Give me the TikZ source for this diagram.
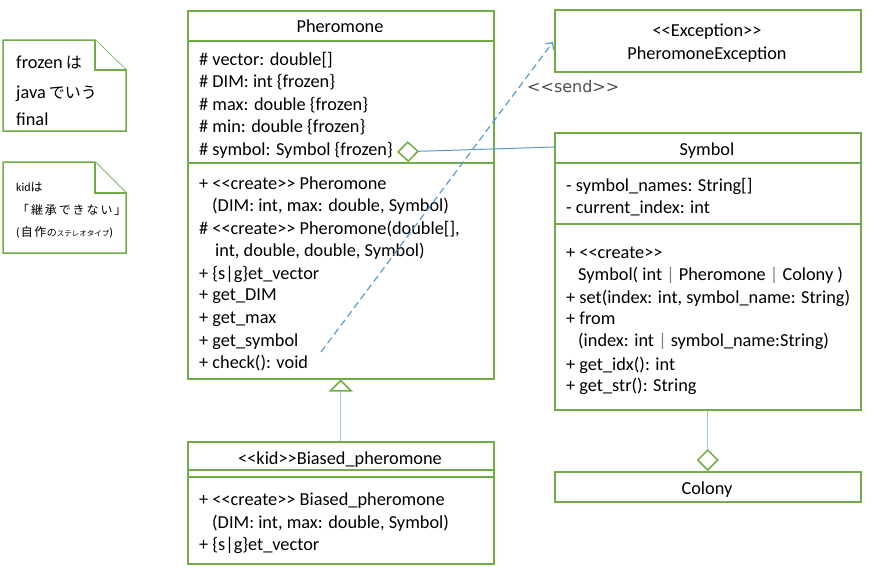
\documentclass[tikz,border=0pt]{standalone}
\usepackage{fontspec}
\setmainfont{Carlito}[Ligatures=TeXOff]
\newfontfamily\jp{Noto Sans CJK JP}[Ligatures=TeXOff]
\newfontfamily\dv{DejaVu Sans}[Ligatures=TeXOff]
\usetikzlibrary{arrows.meta,shapes.geometric}
\definecolor{umlgreen}{HTML}{70AD47}
\definecolor{umlblue}{HTML}{5B9BD5}
\definecolor{umllight}{HTML}{9DC3E6}
\definecolor{sendgray}{HTML}{505050}
\newcommand{\cb}[1]{\makebox[13.9pt]{#1}}
\begin{document}
\begin{tikzpicture}[x=1pt,y=-1pt,
  box/.style={draw=umlgreen, line width=1.5pt, rectangle, anchor=north west, inner sep=0pt, fill=white, minimum width=306pt},
  sepline/.style={draw=umlgreen, line width=1.5pt},
  notebox/.style={draw=umlgreen, line width=1.5pt, fill=white, line join=miter},
  txt/.style={anchor=west, inner sep=0pt, text height=17pt, text depth=3pt, font=\fontsize{18.3}{21}\selectfont},
  ttl/.style={anchor=center, inner sep=0pt, text height=17pt, text depth=3pt, font=\fontsize{18.3}{21}\selectfont},
  aggr/.style={draw=umlblue, line width=1pt, -{Diamond[open, length=22pt, width=21pt, color=umlgreen, line width=1.5pt]}},
  aggrlight/.style={draw=umllight, line width=1.2pt, -{Diamond[open, length=22pt, width=22pt, color=umlgreen, line width=1.5pt]}},
  inh/.style={draw=umllight, line width=1.2pt, -{Triangle[open, length=12pt, width=24pt, color=umlgreen, line width=1.5pt]}},
  sendarrow/.style={draw=umlblue, line width=1.2pt, dash pattern=on 7pt off 4pt, -{Straight Barb[length=5pt, width=10pt, line width=1.2pt]}}
]
\fill[white] (0,0) rectangle (879,587);
\useasboundingbox (0,0) rectangle (879,587);

% ---------- notes ----------
\draw[notebox] (3,40) -- (95,40) -- (126,70) -- (126,131) -- (3,131) -- cycle;
\draw[notebox] (95,40) -- (95,70) -- (126,70);
\node[txt] (n1a) at (16,61) {frozen\,{\jp\fontsize{16}{18}\selectfont は}};
\node[txt] (n1b) at (16,91) {java\,{\jp\fontsize{16}{18}\selectfont でいう}};
\node[txt] (n1c) at (16,118) {final};

\draw[notebox] (3,162) -- (95,162) -- (126,193) -- (126,253) -- (3,253) -- cycle;
\draw[notebox] (95,162) -- (95,193) -- (126,193);
\node[txt, font=\fontsize{12}{14}\selectfont, text height=11pt, text depth=3pt] (n2a) at (16,187) {kid{\jp は}};
\node[txt, font=\fontsize{12}{14}\selectfont, text height=11pt, text depth=3pt] (n2b) at (16,210) {\jp\cb{「}\cb{継}\cb{承}\cb{で}\cb{き}\cb{な}\cb{い}\cb{」}};
\node[txt, font=\fontsize{12}{14}\selectfont, text height=11pt, text depth=3pt] (n2c) at (16,232) {({\jp\makebox[14pt]{自}\makebox[13pt]{作}{\fontsize{10}{11}\selectfont の}{\fontsize{7.5}{9}\selectfont ステレオタイプ}})};

% ---------- Pheromone ----------
\node[box, minimum height=368pt] (pher) at (187,10) {};
\draw[sepline] (187,41) -- (493,41);
\draw[sepline] (187,163) -- (493,163);
\node[ttl] (pt) at (340,25) {Pheromone};
\node[txt] (pa1) at (199,58) {\# vector: double[]};
\node[txt] (pa2) at (199,80) {\# DIM: int \{frozen\}};
\node[txt] (pa3) at (199,103) {\# max: double \{frozen\}};
\node[txt] (pa4) at (199,125) {\# min: double \{frozen\}};
\node[txt] (pa5) at (199,148) {\# symbol: Symbol \{frozen\}};
\node[txt] (pm1) at (199,182) {+ <<create>> Pheromone};
\node[txt] (pm2) at (212,204) {(DIM: int, max: double, Symbol)};
\node[txt] (pm3) at (199,227) {\# <<create>> Pheromone(double[],};
\node[txt] (pm4) at (215,249) {int, double, double, Symbol)};
\node[txt] (pm5) at (199,272) {+ \{s|g\}et\_vector};
\node[txt] (pm6) at (199,293) {+ get\_DIM};
\node[txt] (pm7) at (199,316) {+ get\_max};
\node[txt] (pm8) at (199,339) {+ get\_symbol};
\node[txt] (pm9) at (199,361) {+ check(): void};

% ---------- Exception ----------
\node[box, minimum height=62pt] (exc) at (554,9) {};
\node[ttl] (et1) at (707,29) {<<Exception>>};
\node[ttl] (et2) at (707,52) {PheromoneException};

% ---------- Symbol ----------
\node[box, minimum height=277pt] (sym) at (554,132) {};
\draw[sepline] (554,163) -- (860,163);
\draw[sepline] (554,224) -- (860,224);
\node[ttl] (st) at (707,148) {Symbol};
\node[txt] (sa1) at (566,184) {- symbol\_names: String[]};
\node[txt] (sa2) at (566,206) {- current\_index: int};
\node[txt] (sm1) at (566,251) {+ <<create>>};
\node[txt] (sm2) at (578,273) {Symbol( int \textcolor{gray}{|} Pheromone \textcolor{gray}{|} Colony )};
\node[txt] (sm3) at (566,296) {+ set(index: int, symbol\_name: String)};
\node[txt] (sm4) at (566,317) {+ from};
\node[txt] (sm5) at (578,339) {(index: int \textcolor{gray}{|} symbol\_name:String)};
\node[txt] (sm6) at (566,363) {+ get\_idx(): int};
\node[txt] (sm7) at (566,384) {+ get\_str(): String};

% ---------- Colony ----------
\node[box, minimum height=30pt] (col) at (554,471) {};
\node[ttl] (ct) at (707,487) {Colony};

% ---------- Biased_pheromone ----------
\node[box, minimum height=122pt] (bio) at (187,441) {};
\draw[sepline] (187,470) -- (493,470);
\draw[sepline] (187,477) -- (493,477);
\node[ttl] (bt) at (340,457) {<<kid>>Biased\_pheromone};
\node[txt] (bm1) at (199,498) {+ <<create>> Biased\_pheromone};
\node[txt] (bm2) at (212,521) {(DIM: int, max: double, Symbol)};
\node[txt] (bm3) at (199,543) {+ \{s|g\}et\_vector};

% ---------- connectors ----------
\coordinate (symin) at (554,147);
\coordinate (aggtip) at (397,152);
\draw[aggr] (symin) -- (aggtip);
\draw[aggrlight] (sym.south) -- (col.north);
\draw[inh] (bio.north) -- (pher.south);
\coordinate (chk) at (321,352);
\coordinate (excin) at (553,42);
\draw[sendarrow] (chk) -- (excin);
\node[anchor=west, inner sep=0pt, text=sendgray, font=\dv\fontsize{16}{18}\selectfont] (sendlbl) at (527,87) {<<send>>};
\end{tikzpicture}
\end{document}
